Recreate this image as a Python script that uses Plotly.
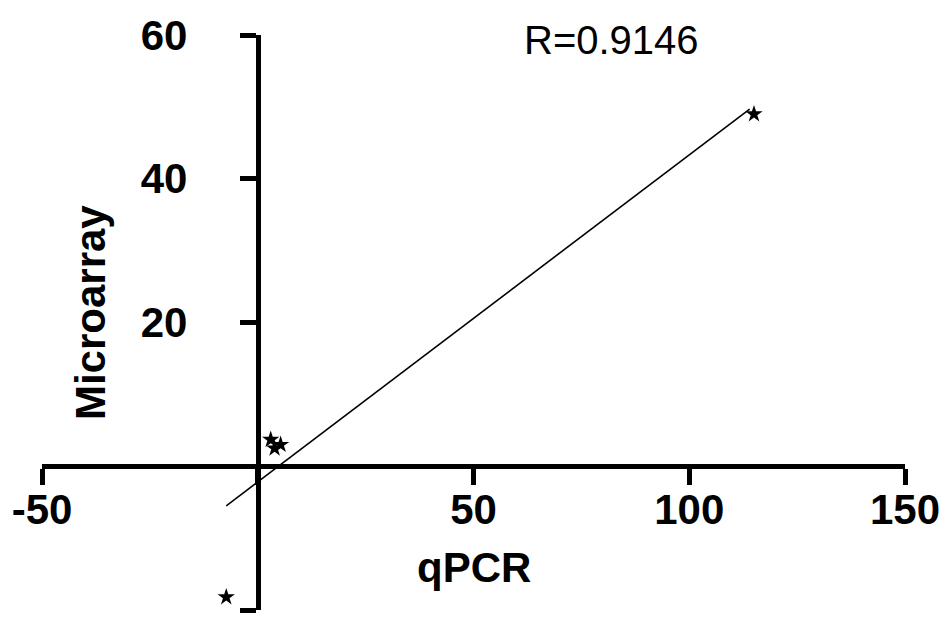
import plotly.graph_objects as go

# Data
qpcr = [-7.3, 3.0, 5.3, 3.9, 115.0]
microarray = [-18.2, 3.7, 3.0, 2.5, 49.0]
fit_x = [-7.3, 114.0]
fit_y = [-5.5, 49.7]
x_ticks = [-50, 0, 50, 100, 150]
x_ticklabels = ["-50", "", "50", "100", "150"]
y_ticks = [-20, 0, 20, 40, 60]
y_ticklabels = ["-20", "", "20", "40", "60"]
r_text = "R=0.9146"

FONT = "Liberation Sans, Arial, sans-serif"

fig = go.Figure()
fig.add_trace(go.Scatter(x=fit_x, y=fit_y, mode="lines",
                         line=dict(color="black", width=1.6), showlegend=False))
fig.add_trace(go.Scatter(x=qpcr, y=microarray, mode="markers",
                         marker=dict(symbol="star", size=13, color="black"),
                         showlegend=False))

L, R, T, B = 42, 38, 30, 17
pw, ph = 952 - L - R, 627 - T - B

fig.update_layout(
    width=952, height=627,
    margin=dict(l=L, r=R, t=T, b=B),
    paper_bgcolor="white", plot_bgcolor="white",
    font=dict(family=FONT, color="black"),
    xaxis=dict(range=[-50, 150], anchor="free", position=0.25,
               showline=True, linewidth=5, linecolor="black",
               ticks="outside", ticklen=16, tickwidth=5, tickcolor="black",
               tickvals=x_ticks, ticktext=x_ticklabels,
               ticklabelstandoff=-12,
               tickfont=dict(family=FONT, size=42, color="black", weight="bold"),
               showgrid=False, zeroline=False),
    yaxis=dict(range=[-20, 60], anchor="free", position=0.25,
               showline=True, linewidth=5, linecolor="black",
               ticks="outside", ticklen=16, tickwidth=5, tickcolor="black",
               tickvals=y_ticks, ticktext=y_ticklabels,
               ticklabelstandoff=44,
               tickfont=dict(family=FONT, size=42, color="black", weight="bold"),
               showgrid=False, zeroline=False),
    annotations=[
        dict(text=r_text, x=82, y=59.3, xref="x", yref="y", showarrow=False,
             xanchor="center", yanchor="middle",
             font=dict(family=FONT, size=40, color="black")),
        dict(text="<b>qPCR</b>", x=(478 - L) / pw, y=1 - (567 - T) / ph,
             xref="paper", yref="paper", xanchor="center", yanchor="middle",
             showarrow=False, font=dict(family=FONT, size=42, color="black")),
        dict(text="<b>Microarray</b>", x=(91 - L) / pw, y=1 - (310 - T) / ph,
             xref="paper", yref="paper", xanchor="center", yanchor="middle",
             showarrow=False, textangle=-90,
             font=dict(family=FONT, size=42, color="black")),
    ],
)

fig.write_html("out.html")
